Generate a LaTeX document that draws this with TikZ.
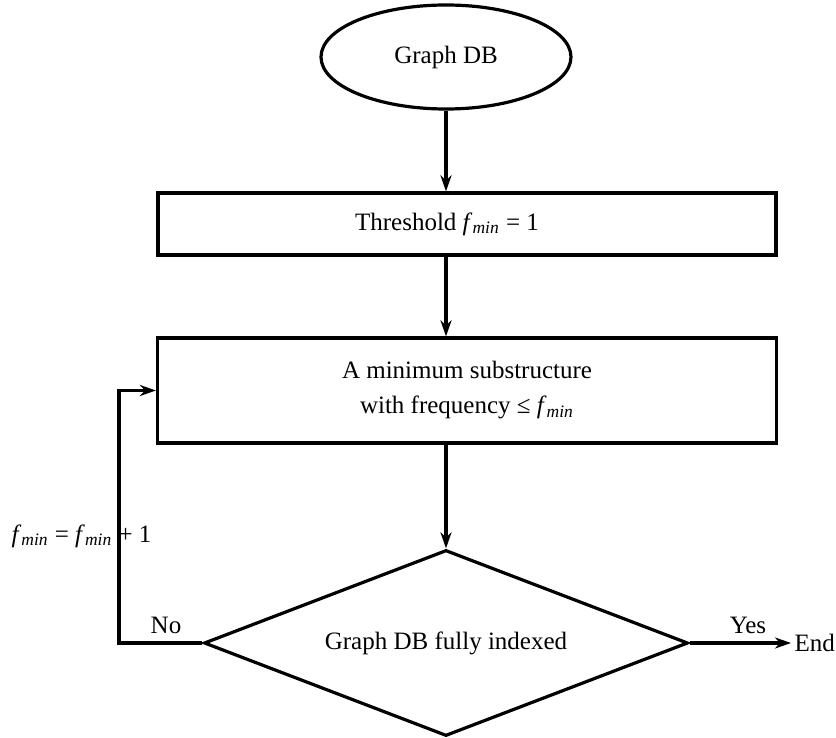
\documentclass[tikz,border=0pt]{standalone}
\usepackage{fontspec}
\setmainfont{Liberation Serif}
\usetikzlibrary{shapes.geometric,arrows.meta}
\newcommand{\fmin}{\textit{f}\textsubscript{\textit{min}}}
\begin{document}
\begin{tikzpicture}[x=0.5pt,y=-0.5pt,line width=1.6pt,
  font=\fontsize{12.5}{17.5}\selectfont,
  box/.style={draw,rectangle,inner sep=0pt,align=center},
  arr/.style={-{Stealth[length=8pt,width=5.5pt,inset=2.5pt]}},
  lbl/.style={inner sep=0pt}]
\useasboundingbox[fill=white] (0,0) rectangle (836,738);

% Flow boxes, top to bottom.
\node[draw,ellipse,inner sep=0pt,minimum width=125pt,minimum height=52pt] (db) at (446,57) {Graph DB};
\node[box,minimum width=309pt,minimum height=31pt] (thr) at (467,224) {\hspace*{-20pt}Threshold \fmin{} = 1};
\node[box,minimum width=309.5pt,minimum height=52.5pt] (sub) at (467,390.5) {A minimum substructure\\ with frequency ≤ \fmin};
\node[draw,diamond,aspect=2.6,inner sep=0pt,minimum width=242pt,minimum height=93pt] (chk) at (446,643) {Graph DB fully indexed};
\node[lbl,inner sep=1pt,anchor=west] (end) at (791,643) {End};

\draw[arr] (db) -- (db |- thr.north);
\draw[arr] (db |- thr.south) -- (db |- sub.north);
\draw[arr] (db |- sub.south) -- (chk);
\draw[arr] (chk.east) -- (end);

% Loop back when not yet indexed.
\coordinate (bend) at ([xshift=-18.5pt]sub.west);
\draw[arr] (chk.west) -| (bend) -- (sub.west);

\node[lbl,anchor=base] (no) at (166,633) {No};
\node[lbl,anchor=base] (yes) at (748,633) {Yes};
\node[lbl,anchor=base east] (inc) at (153,542) {\fmin{} = \fmin{} + 1};
\end{tikzpicture}
\end{document}
